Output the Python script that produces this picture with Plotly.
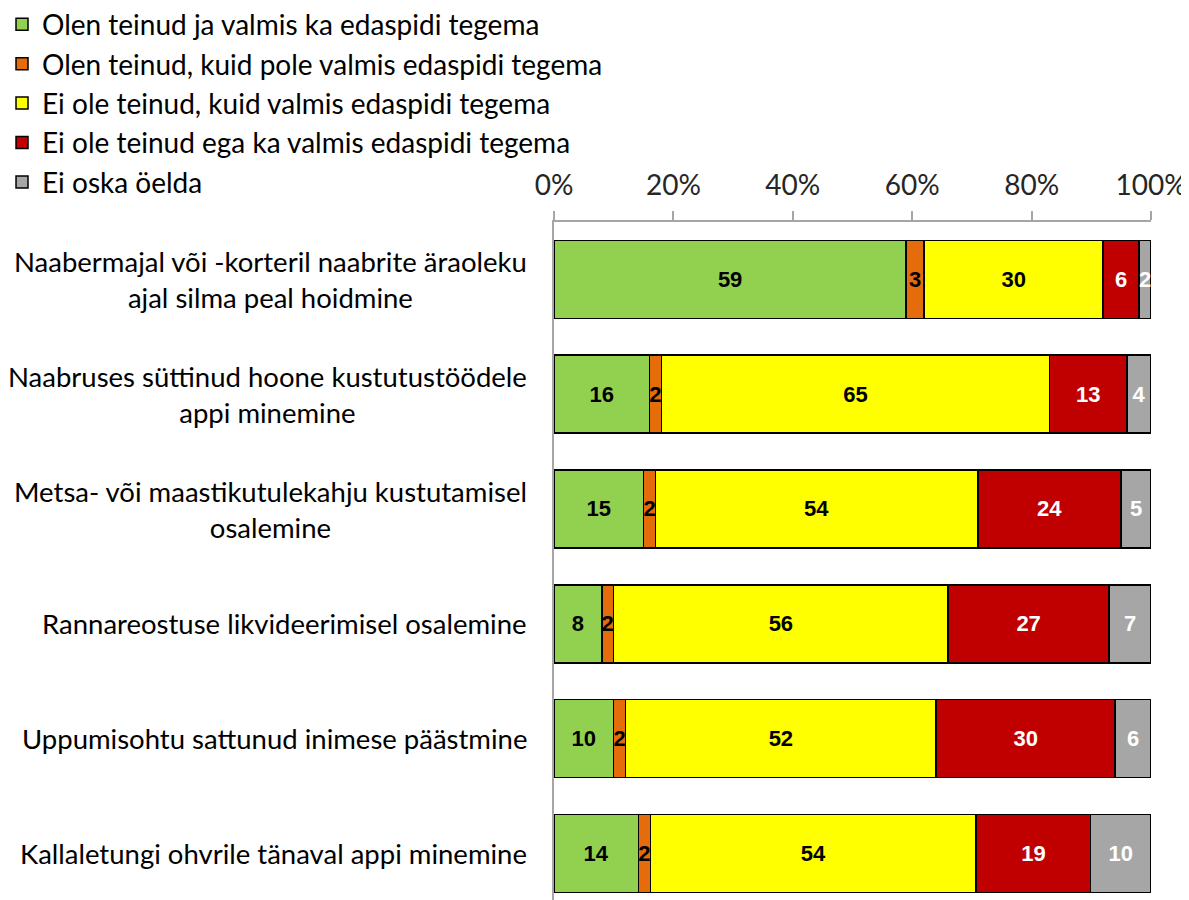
import plotly.graph_objects as go

categories = [
    "Naabermajal või -korteril naabrite äraoleku<br>ajal silma peal hoidmine",
    "Naabruses süttinud hoone kustutustöödele<br>appi minemine",
    "Metsa- või maastikutulekahju kustutamisel<br>osalemine",
    "Rannareostuse likvideerimisel osalemine",
    "Uppumisohtu sattunud inimese päästmine",
    "Kallaletungi ohvrile tänaval appi minemine",
]
series_names = [
    "Olen teinud ja valmis ka edaspidi tegema",
    "Olen teinud, kuid pole valmis edaspidi tegema",
    "Ei ole teinud, kuid valmis edaspidi tegema",
    "Ei ole teinud ega ka valmis edaspidi tegema",
    "Ei oska öelda",
]
done_willing = [59, 16, 15, 8, 10, 14]
done_unwilling = [3, 2, 2, 2, 2, 2]
notdone_willing = [30, 65, 54, 56, 52, 54]
notdone_unwilling = [6, 13, 24, 27, 30, 19]
dont_know = [2, 4, 5, 7, 6, 10]
series_values = [done_willing, done_unwilling, notdone_willing, notdone_unwilling, dont_know]
tick_vals = [0, 20, 40, 60, 80, 100]
tick_labels = ["0%", "20%", "40%", "60%", "80%", "100%"]

colors = ["#92D050", "#E46C0A", "#FFFF00", "#C00000", "#A6A6A6"]
text_colors = ["black", "black", "black", "white", "white"]

row_sums = [sum(s[i] for s in series_values) for i in range(len(categories))]
ypos = list(range(len(categories)))

fig = go.Figure()
for name, vals, col, tcol in zip(series_names, series_values, colors, text_colors):
    shares = [v / rs * 100 for v, rs in zip(vals, row_sums)]
    fig.add_trace(go.Bar(
        y=ypos, x=shares, orientation="h", name=name,
        marker=dict(color=col, line=dict(color="black", width=1.5)),
        text=[str(v) for v in vals], textposition="inside", insidetextanchor="middle",
        textfont=dict(family="Liberation Sans", size=22, color=tcol, weight="bold"),
        constraintext="none", cliponaxis=False, hoverinfo="skip",
    ))

for i, cat in enumerate(categories):
    fig.add_annotation(
        x=-0.042, xref="paper", y=i, yref="y", text=cat, showarrow=False,
        xanchor="right", yanchor="middle", align="center",
        font=dict(family="Lato", size=27.5, color="black"),
    )

fig.update_layout(
    barmode="stack", bargap=0.32,
    width=1189, height=892,
    margin=dict(l=546, r=46, t=214, b=0, autoexpand=False),
    paper_bgcolor="white", plot_bgcolor="white",
    uniformtext=dict(minsize=22, mode="show"),
    legend=dict(
        xref="paper", yref="paper", x=-0.9246, y=1.328,
        xanchor="left", yanchor="top", traceorder="normal",
        bgcolor="rgba(0,0,0,0)",
        font=dict(family="Lato", size=28, color="black"),
        itemwidth=30, tracegroupgap=0,
    ),
    xaxis=dict(
        side="top", range=[0, 100], tickvals=tick_vals, ticktext=tick_labels,
        showgrid=False, zeroline=False, showline=True, linecolor="#A6A6A6", linewidth=1.5,
        ticks="outside", ticklen=9, tickcolor="#A6A6A6", tickwidth=1.5,
        ticklabelstandoff=5,
        tickfont=dict(family="Lato", size=28, color="#262626"),
    ),
    yaxis=dict(
        range=[5.406, -0.5], showticklabels=False, showgrid=False, zeroline=False,
        showline=True, linecolor="#A6A6A6", linewidth=1.5, ticks="",
    ),
)

fig.write_html("out.html")
